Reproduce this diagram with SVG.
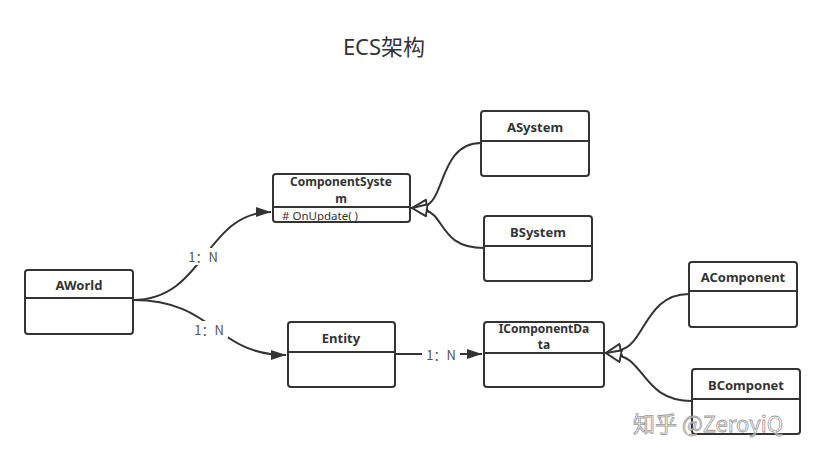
<svg xmlns="http://www.w3.org/2000/svg" width="825" height="460" viewBox="0 0 825 460">
<style>
.box{fill:#fff;stroke:#333;stroke-width:2}
.div{stroke:#333;stroke-width:2}
.t{font-family:"Noto Sans","Noto Sans CJK SC",sans-serif;font-size:13px;font-weight:bold;fill:#333;text-anchor:middle}
.t2{font-family:"Noto Sans","Noto Sans CJK SC",sans-serif;font-size:12px;font-weight:bold;fill:#333;text-anchor:middle}
.m{font-family:"Noto Sans","Noto Sans CJK SC",sans-serif;font-size:11.5px;fill:#333}
.lbl{font-family:"Noto Sans CJK SC","Noto Sans",sans-serif;font-size:13px;fill:#555;text-anchor:middle}
.c{fill:none;stroke:#333;stroke-width:2}
</style>
<defs>
<marker id="fa" markerWidth="16" markerHeight="12" refX="15" refY="6" orient="auto" markerUnits="userSpaceOnUse">
<path d="M0,1 L15,6 L0,11 Z" fill="#333"/>
</marker>
<marker id="ha" markerWidth="18" markerHeight="14" refX="16" refY="7" orient="auto" markerUnits="userSpaceOnUse">
<path d="M1,1 L16,7 L1,13 Z" fill="#fff" stroke="#333" stroke-width="2"/>
</marker>
</defs>
<rect width="825" height="460" fill="#fff"/>
<text x="384" y="55" font-family="'Noto Sans','Noto Sans CJK SC',sans-serif" font-size="22" fill="#333" text-anchor="middle">ECS架构</text>

<g id="connectors">
<path class="c" d="M133,300 C205,300 205,212 271,212" marker-end="url(#fa)"/>
<path class="c" d="M133,300 C215,300 215,355 286,355" marker-end="url(#fa)"/>
<path class="c" d="M395,354 L482,354" marker-end="url(#fa)"/>
<path class="c" d="M481,143 C440,143 445,200 425,206 L412,208" marker-end="url(#ha)"/>
<path class="c" d="M484,248 C440,248 445,215 425,210 L412,208" marker-end="url(#ha)"/>
<path class="c" d="M689,294 C645,294 645,345 620,350 L606,353" marker-end="url(#ha)"/>
<path class="c" d="M692,401 C645,401 645,362 620,356 L606,353" marker-end="url(#ha)"/>
<rect x="184" y="248" width="38" height="17" fill="#fff"/>
<text class="lbl" x="203" y="262">1：N</text>
<rect x="190" y="321" width="38" height="17" fill="#fff"/>
<text class="lbl" x="209" y="335">1：N</text>
<rect x="422" y="346" width="38" height="17" fill="#fff"/>
<text class="lbl" x="441" y="360">1：N</text>
</g>

<g id="AWorld">
<rect class="box" x="25" y="270" width="108" height="64" rx="3"/>
<line class="div" x1="25" y1="298" x2="133" y2="298"/>
<text class="t" x="79" y="290">AWorld</text>
</g>
<g id="ComponentSystem">
<rect class="box" x="273" y="174" width="137" height="48" rx="3"/>
<line class="div" x1="273" y1="207" x2="410" y2="207"/>
<text class="t2" x="341" y="186">ComponentSyste</text>
<text class="t2" x="341" y="203">m</text>
<text class="m" x="282" y="220"># OnUpdate( )</text>
</g>
<g id="ASystem">
<rect class="box" x="481" y="111" width="108" height="65" rx="3"/>
<line class="div" x1="481" y1="141" x2="589" y2="141"/>
<text class="t" x="535" y="132">ASystem</text>
</g>
<g id="BSystem">
<rect class="box" x="484" y="216" width="108" height="65" rx="3"/>
<line class="div" x1="484" y1="246" x2="592" y2="246"/>
<text class="t" x="538" y="237">BSystem</text>
</g>
<g id="Entity">
<rect class="box" x="288" y="322" width="107" height="65" rx="3"/>
<line class="div" x1="288" y1="352" x2="395" y2="352"/>
<text class="t" x="341" y="343">Entity</text>
</g>
<g id="IComponentData">
<rect class="box" x="484" y="322" width="120" height="65" rx="3"/>
<line class="div" x1="484" y1="353" x2="604" y2="353"/>
<text class="t2" x="544" y="333">IComponentDa</text>
<text class="t2" x="544" y="349">ta</text>
</g>
<g id="AComponent">
<rect class="box" x="689" y="262" width="108" height="65" rx="3"/>
<line class="div" x1="689" y1="291" x2="797" y2="291"/>
<text class="t" x="743" y="282">AComponent</text>
</g>
<g id="BComponet">
<rect class="box" x="692" y="369" width="108" height="65" rx="3"/>
<line class="div" x1="692" y1="399" x2="800" y2="399"/>
<text class="t" x="746" y="390">BComponet</text>
</g>
<text x="633" y="432" font-family="'Noto Sans CJK SC','Noto Sans',sans-serif" font-size="22" fill="#fff" fill-opacity="0.6" stroke="#999" stroke-width="0.8">知乎 @ZeroyiQ</text>
</svg>
